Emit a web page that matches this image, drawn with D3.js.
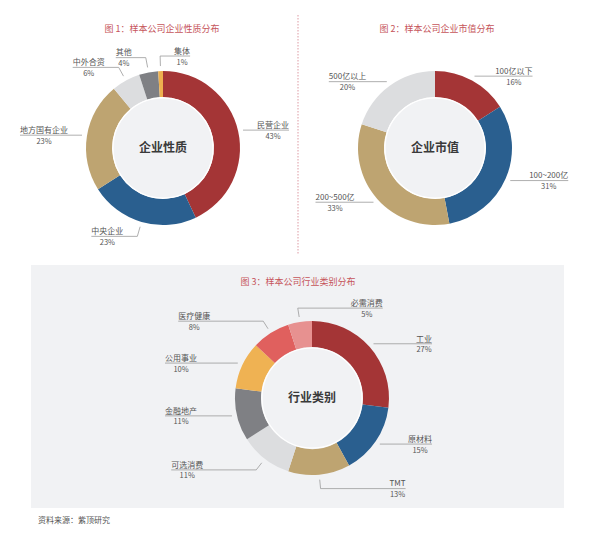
<!DOCTYPE html>
<html>
<head>
<meta charset="utf-8">
<script src="https://cdn.jsdelivr.net/npm/d3@7"></script>
<style>
  html, body { margin: 0; padding: 0; background: #fff; }
  text { font-family: "Noto Sans CJK SC", "Noto Sans", sans-serif; }
</style>
</head>
<body>
<div id="visual"></div>
<script>
// chart 1: company nature
const natureCats = ["民营企业", "中央企业", "地方国有企业", "中外合资", "其他", "集体"];
const natureVals = [43, 23, 23, 6, 4, 1];
const natureColors = ["#a43536", "#2a5f8f", "#bea471", "#dcdddf", "#7f8084", "#eeb04f"];

// chart 2: market value
const capCats = ["100亿以下", "100~200亿", "200~500亿", "500亿以上"];
const capVals = [16, 31, 33, 20];
const capColors = ["#a43536", "#2a5f8f", "#bea471", "#dcdddf"];

// chart 3: industry
const indCats = ["工业", "原材料", "TMT", "可选消费", "金融地产", "公用事业", "医疗健康", "必需消费"];
const indVals = [27, 15, 13, 11, 11, 10, 8, 5];
const indColors = ["#a43536", "#2a5f8f", "#bea471", "#dcdddf", "#7f8084", "#efb253", "#e0605e", "#e79190"];

const titles = ["图 1：样本公司企业性质分布", "图 2：样本公司企业市值分布", "图 3：样本公司行业类别分布"];
const centerNames = ["企业性质", "企业市值", "行业类别"];
const source = "资料来源：紫顶研究";

const width = 600, height = 534;
const outerR = 77, innerR = 51;

const svg = d3.select("#visual")
    .append("svg")
    .attr("width", width)
    .attr("height", height);

// panel behind chart 3
svg.append("rect")
    .attr("x", 31).attr("y", 265)
    .attr("width", 533).attr("height", 243)
    .attr("fill", "#f1f2f4");

// dotted divider between chart 1 and 2
svg.append("line")
    .attr("x1", 298).attr("x2", 298)
    .attr("y1", 15).attr("y2", 255)
    .attr("stroke", "#dd9aa3")
    .attr("stroke-width", 1)
    .attr("stroke-dasharray", "1.5,1.5");

function donut(cats, vals, colors, opt) {
    const g = svg.append("g")
        .attr("transform", "translate(" + opt.cx + "," + opt.cy + ")");

    const data = cats.map((c, i) => ({ name: c, value: vals[i], color: colors[i] }));
    const pie = d3.pie().sort(null).value(d => d.value);
    const arcs = pie(data);
    const arc = d3.arc().innerRadius(innerR).outerRadius(outerR);

    g.selectAll("path")
        .data(arcs)
        .enter()
        .append("path")
        .attr("d", arc)
        .attr("fill", d => d.data.color);

    // light hole with a thin white ring
    g.append("circle")
        .attr("r", innerR - 1)
        .attr("fill", "#f1f2f4")
        .attr("stroke", "#fff")
        .attr("stroke-width", 1.2);

    g.append("text")
        .attr("text-anchor", "middle")
        .attr("dy", "0.36em")
        .attr("font-size", 12)
        .attr("font-weight", 700)
        .attr("fill", "#3a3a3a")
        .text(opt.center);

    // title
    svg.append("text")
        .attr("x", opt.tx).attr("y", opt.ty)
        .attr("text-anchor", "middle")
        .attr("font-size", 9)
        .attr("fill", "#c6555b")
        .text(opt.title);

    const startArc = d3.arc().innerRadius(outerR + 5).outerRadius(outerR + 5);
    const elbowArc = d3.arc().innerRadius(outerR + opt.len1).outerRadius(outerR + opt.len1);

    arcs.forEach(d => {
        const mid = (d.startAngle + d.endAngle) / 2;
        // labels go left only between 6 and ~11:40 o'clock, the topmost slices go right
        const left = mid > Math.PI && mid < Math.PI * 2 * 350 / 360;
        const p0 = startArc.centroid(d);
        // side slices get a straight line, top/bottom ones bend first
        const bend = opt.len1 > 5 && Math.abs(Math.cos(mid)) > 0.7;
        const p1 = bend ? elbowArc.centroid(d) : p0;

        const name = g.append("text")
            .attr("y", p1[1] - 2.2)
            .attr("text-anchor", left ? "start" : "end")
            .attr("font-size", 8)
            .attr("fill", "#555")
            .text(d.data.name);
        const w = name.node().getComputedTextLength();

        let len = opt.fit ? w + opt.len2 : opt.len2;
        let xEnd = p1[0] + (left ? -len : len);
        if (opt.edgeL !== undefined) xEnd = left ? Math.max(xEnd, opt.edgeL) : Math.min(xEnd, opt.edgeR);
        name.attr("x", xEnd);

        g.append("polyline")
            .attr("points", [p0, p1, [xEnd, p1[1]]].map(p => p.join(",")).join(" "))
            .attr("fill", "none")
            .attr("stroke", "#9a9a9a")
            .attr("stroke-width", 0.8);

        g.append("text")
            .attr("x", left ? xEnd + w / 2 : xEnd - w / 2)
            .attr("y", p1[1] + 8.5)
            .attr("text-anchor", "middle")
            .attr("font-size", 7.5)
            .attr("fill", "#555")
            .text(d.value + "%");
    });
}

donut(natureCats, natureVals, natureColors,
    { cx: 163, cy: 148, tx: 162, ty: 32, len1: 15, len2: 14, fit: true, title: titles[0], center: centerNames[0] });
donut(capCats, capVals, capColors,
    { cx: 435, cy: 148, tx: 437, ty: 32, len1: 5, len2: 58, title: titles[1], center: centerNames[1] });
donut(indCats, indVals, indColors,
    { cx: 312, cy: 398, tx: 298, ty: 285, len1: 14, len2: 85, edgeL: -147, edgeR: 120, title: titles[2], center: centerNames[2] });

svg.append("text")
    .attr("x", 38).attr("y", 523)
    .attr("font-size", 8)
    .attr("fill", "#555")
    .text(source);
</script>
</body>
</html>
